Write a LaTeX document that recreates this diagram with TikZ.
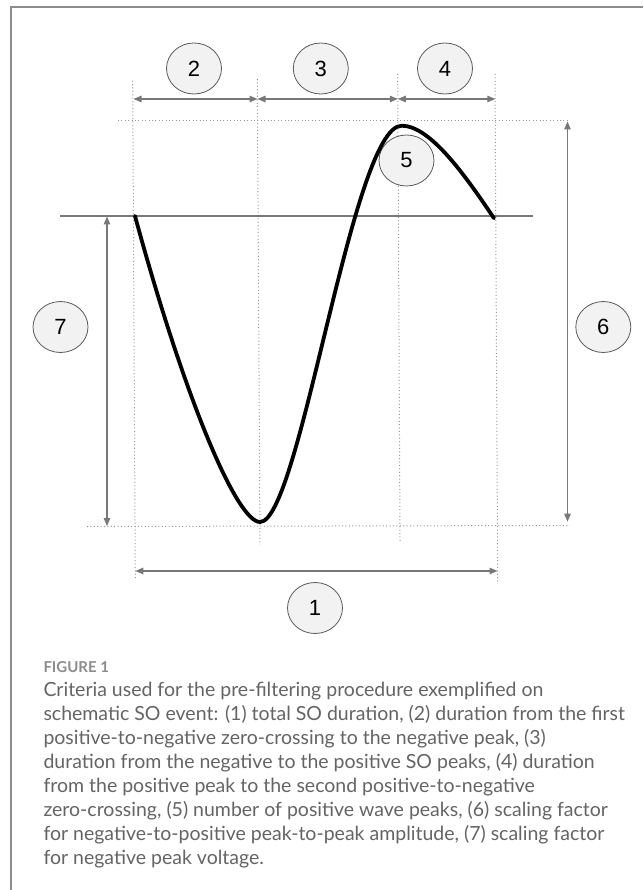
\documentclass[tikz,border=0pt]{standalone}
\usepackage{fontspec}
\setmainfont{Liberation Sans}
\newfontfamily\capfont{Lato}
\usetikzlibrary{shapes.geometric, arrows.meta, calc}
\definecolor{guide}{RGB}{120,120,120}
\definecolor{dotgray}{RGB}{150,150,150}
\definecolor{tagfill}{RGB}{242,242,242}
\definecolor{tagline}{RGB}{90,90,90}
\definecolor{captext}{RGB}{100,100,100}
\definecolor{frameline}{RGB}{140,140,140}

\begin{document}
\begin{tikzpicture}[x=1pt, y=-1pt,
  tag/.style={ellipse, draw=tagline, fill=tagfill, line width=0.8pt, minimum width=55pt, minimum height=51pt, inner sep=0pt, font=\fontsize{22}{22}\selectfont},
  dim/.style={{Triangle[length=8pt,width=6.5pt]}-{Triangle[length=8pt,width=6.5pt]}, guide, line width=1.1pt},
  guideline/.style={dotgray, line width=1pt, dash pattern=on 1pt off 2.4pt},
  wave/.style={black, line width=3.8pt, line cap=round, line join=round}
]
\useasboundingbox (0,0) rectangle (643,890);
\draw[frameline, line width=2pt] (643,7.3) -- (11,7.3) -- (11,890);

\coordinate (start) at (135,216);
\coordinate (trough) at (260,522);
\coordinate (peak) at (401.7,125.7);
\coordinate (stop) at (494,218.3);

\coordinate (v1top) at (132.7,80.7);
\coordinate (v1bot) at (135.3,579);
\coordinate (v2top) at (257.3,79);
\coordinate (v2bot) at (260,545);
\coordinate (v3top) at (397.7,74);
\coordinate (v3bot) at (400,541);
\coordinate (v4top) at (495,74);
\coordinate (v4bot) at (497.7,583);

\draw[guideline] (v1top) -- (v1bot);
\draw[guideline] (v2top) -- (v2bot);
\draw[guideline] (v3top) -- (v3bot);
\draw[guideline] (v4top) -- (v4bot);

\coordinate (hitopL) at (118,120.5);
\coordinate (hitopR) at (570,120.5);
\coordinate (hibotL) at (87,526.5);
\coordinate (hibotR) at (570,525.5);
\draw[guideline] (hitopL) -- (hitopR);
\draw[guideline] (hibotL) -- (hibotR);

\coordinate (zeroL) at (60,216);
\coordinate (zeroR) at (532.7,216);
\draw[guide, line width=1.1pt] (zeroL) -- (zeroR);

\coordinate (a2L) at (133.5,99);
\coordinate (a2R) at (257.5,99);
\coordinate (a3R) at (397.8,99);
\coordinate (a4R) at (495.3,99);
\draw[dim] (a2L) -- (a2R);
\draw[dim] (a2R) -- (a3R);
\draw[dim] (a3R) -- (a4R);

\coordinate (a1L) at (135.3,571);
\coordinate (a1R) at (497.5,571);
\draw[dim] (a1L) -- (a1R);

\coordinate (a6T) at (567.5,121.5);
\coordinate (a6B) at (567.5,521.7);
\draw[dim] (a6T) -- (a6B);

\coordinate (a7T) at (107,216.5);
\coordinate (a7B) at (107,526);
\draw[dim] (a7T) -- (a7B);

\node[tag] (c1) at (315,608) {1};
\node[tag] (c2) at (194,68.5) {2};
\node[tag] (c3) at (320.8,68.5) {3};
\node[tag] (c4) at (445,68.5) {4};
\node[tag] (c5) at (406.5,160.5) {5};
\node[tag] (c6) at (603.3,327) {6};
\node[tag] (c7) at (60.5,327) {7};

\draw[wave] (start) .. controls (185,400) and (237,522) .. (trough)
  .. controls (300,522) and (352,125.7) .. (peak)
  .. controls (430,125.7) and (465,175) .. (stop);

\node[anchor=base west, inner sep=0pt, text=frameline, font=\capfont\bfseries\fontsize{15}{15}\selectfont] (fig) at (43.3,672.3) {FIGURE 1};
\node[anchor=base west, inner sep=0pt, align=left, text=captext, font=\capfont\fontsize{19.5}{24}\selectfont] (cap) at (43.3,864.7) {Criteria used for the pre-filtering procedure exemplified on\\
schematic SO event: (1) total SO duration, (2) duration from the first\\
positive-to-negative zero-crossing to the negative peak, (3)\\
duration from the negative to the positive SO peaks, (4) duration\\
from the positive peak to the second positive-to-negative\\
zero-crossing, (5) number of positive wave peaks, (6) scaling factor\\
for negative-to-positive peak-to-peak amplitude, (7) scaling factor\\
for negative peak voltage.};
\end{tikzpicture}
\end{document}
